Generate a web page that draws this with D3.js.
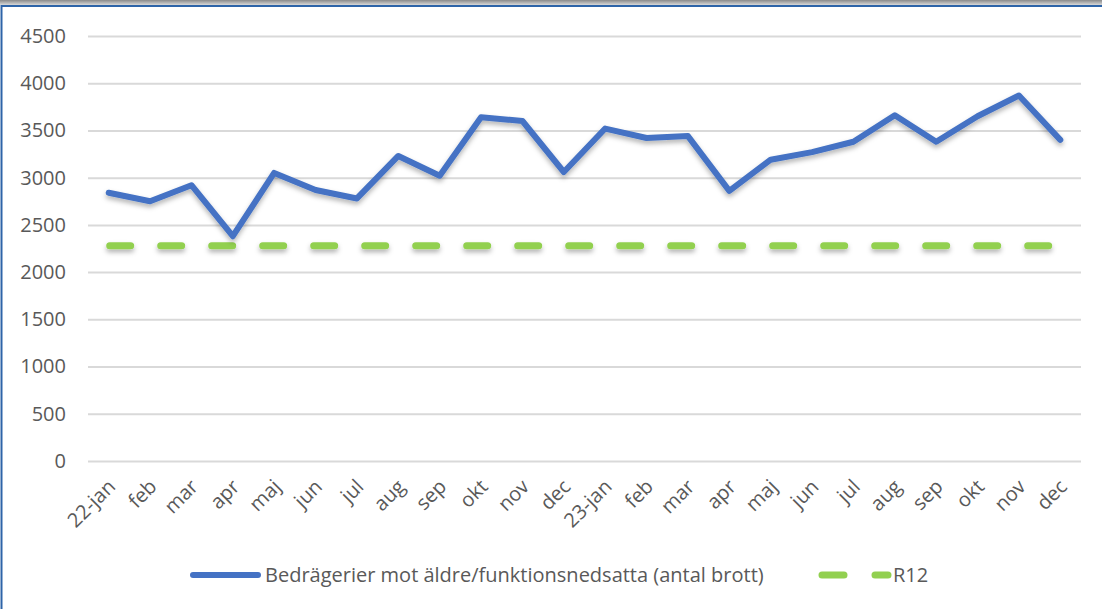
<!DOCTYPE html>
<html>
<meta charset="utf-8">
<head>
<script src="https://d3js.org/d3.v7.min.js"></script>
<style>
  body { margin: 0; background: #fff; }
  text { font-family: "Open Sans", Lato, sans-serif; fill: #595959; }
</style>
</head>
<body>
<div id="chart"></div>
<script>
// months, two years in a row
var months = ["22-jan", "feb", "mar", "apr", "maj", "jun", "jul", "aug", "sep", "okt", "nov", "dec",
              "23-jan", "feb", "mar", "apr", "maj", "jun", "jul", "aug", "sep", "okt", "nov", "dec"];
// antal brott per month
var brott = [2840, 2750, 2920, 2380, 3050, 2870, 2780, 3230, 3020, 3640, 3600, 3060,
             3520, 3420, 3440, 2860, 3190, 3270, 3380, 3660, 3380, 3650, 3870, 3400];
var r12 = 2280;
var yTicks = [0, 500, 1000, 1500, 2000, 2500, 3000, 3500, 4000, 4500];
var seriesNames = ["Bedrägerier mot äldre/funktionsnedsatta (antal brott)", "R12"];

var width = 1102, height = 609;
var margin = {top: 36, right: 21, bottom: 148, left: 88};
var fontSize = "20px";

var svg = d3.select("#chart").append("svg")
    .attr("width", width)
    .attr("height", height);

// drop shadow like the office chart
var defs = svg.append("defs");
var f = defs.append("filter").attr("id", "shadow")
    .attr("filterUnits", "userSpaceOnUse")
    .attr("x", 0).attr("y", 0).attr("width", width).attr("height", height);
f.append("feDropShadow").attr("dx", 0).attr("dy", 3).attr("stdDeviation", 2.5)
    .attr("flood-color", "#000").attr("flood-opacity", 0.3);

var grad = defs.append("linearGradient").attr("id", "topshade")
    .attr("x1", 0).attr("y1", 0).attr("x2", 0).attr("y2", 1);
grad.append("stop").attr("offset", "0%").attr("stop-color", "#8a8a8a");
grad.append("stop").attr("offset", "100%").attr("stop-color", "#d8d8d8");

// frame
svg.append("rect").attr("x", 0).attr("y", 0).attr("width", width).attr("height", 5)
    .attr("fill", "url(#topshade)");
svg.append("rect").attr("x", 1.5).attr("y", 6).attr("width", width + 10).attr("height", height + 10)
    .attr("fill", "none").attr("stroke", "#2e64a8").attr("stroke-width", 2);

var x = d3.scaleBand()
    .domain(d3.range(months.length))
    .range([margin.left, width - margin.right]);

var y = d3.scaleLinear()
    .domain([0, 4500])
    .range([height - margin.bottom, margin.top]);

// gridlines + y labels
var yAxis = svg.append("g")
    .attr("transform", "translate(" + margin.left + ",0)")
    .call(d3.axisLeft(y).tickValues(yTicks).tickFormat(d3.format("d"))
        .tickSize(-(width - margin.left - margin.right))
        .tickPadding(22));
yAxis.select(".domain").remove();
yAxis.selectAll(".tick line").attr("stroke", "#d9d9d9").attr("stroke-width", 2);
yAxis.selectAll(".tick text").attr("font-size", fontSize).attr("fill", "#595959")
    .style("font-family", "'Open Sans', Lato, sans-serif");

// x labels
var xAxis = svg.append("g")
    .attr("transform", "translate(0," + (height - margin.bottom) + ")")
    .call(d3.axisBottom(x).tickFormat(function(i) { return months[i]; }).tickSize(0));
xAxis.select(".domain").remove();
xAxis.selectAll(".tick text")
    .attr("font-size", fontSize).attr("fill", "#595959")
    .style("font-family", "'Open Sans', Lato, sans-serif")
    .attr("text-anchor", "end")
    .attr("y", 0)
    .attr("dy", "0.35em")
    .attr("transform", "translate(3,22) rotate(-45)");

var cx = function(i) { return x(i) + x.bandwidth() / 2; };

// R12 reference line
svg.append("line")
    .attr("x1", cx(0) + 1).attr("x2", cx(months.length - 1))
    .attr("y1", y(r12)).attr("y2", y(r12))
    .attr("stroke", "#92d050").attr("stroke-width", 7)
    .attr("stroke-linecap", "round")
    .attr("stroke-dasharray", "21 30")
    .attr("filter", "url(#shadow)");

// main series
var line = d3.line()
    .x(function(d, i) { return cx(i); })
    .y(function(d) { return y(d); });

svg.append("path")
    .datum(brott)
    .attr("d", line)
    .attr("fill", "none")
    .attr("stroke", "#4472c4")
    .attr("stroke-width", 6)
    .attr("stroke-linejoin", "round")
    .attr("stroke-linecap", "round")
    .attr("filter", "url(#shadow)");

// legend
var ly = 575;
var leg = svg.append("g");
leg.append("line").attr("x1", 193).attr("x2", 258).attr("y1", ly).attr("y2", ly)
    .attr("stroke", "#4472c4").attr("stroke-width", 6).attr("stroke-linecap", "round");
leg.append("text").attr("x", 265).attr("y", ly).attr("dy", "0.35em")
    .attr("font-size", fontSize).text(seriesNames[0]);
leg.append("line").attr("x1", 822).attr("x2", 888).attr("y1", ly).attr("y2", ly)
    .attr("stroke", "#92d050").attr("stroke-width", 7).attr("stroke-linecap", "round")
    .attr("stroke-dasharray", "22 31");
leg.append("text").attr("x", 893).attr("y", ly).attr("dy", "0.35em")
    .attr("font-size", fontSize).text(seriesNames[1]);
</script>
</body>
</html>
